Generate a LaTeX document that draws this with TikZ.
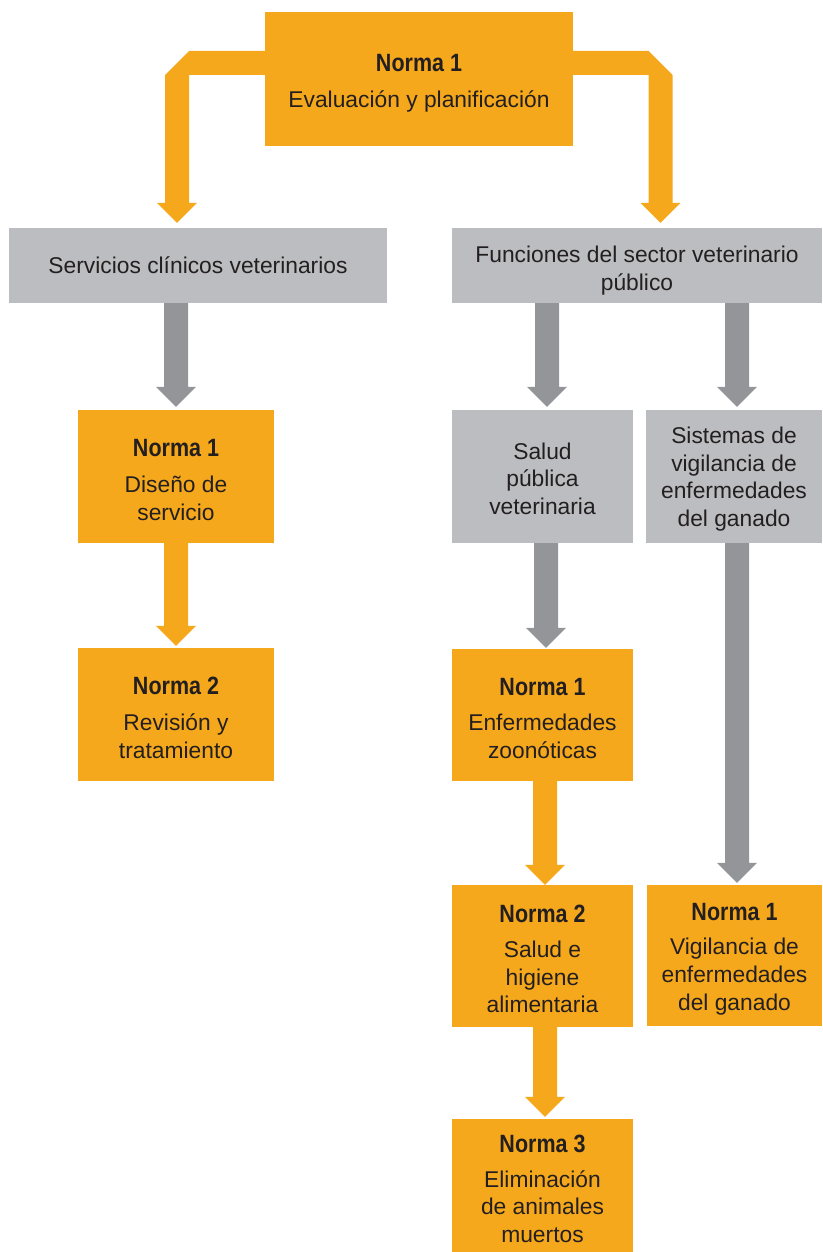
\documentclass[tikz,border=0pt]{standalone}
\usepackage{fontspec}
\setmainfont{Liberation Sans}
\newfontfamily\normafont[FakeStretch=0.86,UprightFont=* Bold]{Liberation Sans}
\usetikzlibrary{calc}
\definecolor{orng}{HTML}{F6A81C}
\definecolor{lgray}{HTML}{BCBDC0}
\definecolor{dgray}{HTML}{939598}
\definecolor{txt}{HTML}{231F20}
\newcommand\hd{\normafont\fontsize{25}{27.7}\selectfont}
\newcommand\hstrut[1]{\rule{0pt}{#1pt}}
% vertical block arrow: colour, from node, to node, x (pt), gap (pt)
\newcommand\vblock[5]{%
  \fill[#1] let \p1=(#2.south), \p2=(#3.north) in
    (#4pt-12pt,\y1) -- (#4pt+12pt,\y1) -- (#4pt+12pt,\y2+#5pt+20pt)
    -- (#4pt+20pt,\y2+#5pt+20pt) -- (#4pt,\y2+#5pt) -- (#4pt-20pt,\y2+#5pt+20pt)
    -- (#4pt-12pt,\y2+#5pt+20pt) -- cycle;}
\begin{document}
\begin{tikzpicture}[x=1pt,y=1pt,
  box/.style={inner sep=0pt, align=center, text=txt, font=\fontsize{22.8}{27.7}\selectfont},
  obox/.style={box, fill=orng},
  gbox/.style={box, fill=lgray}]
\useasboundingbox (0,0) rectangle (822,-1252);
% boxes
\node[obox, minimum width=308pt, minimum height=134pt] (top) at (419,-79)
  {{\hd\hstrut{26}Norma 1}\\[9pt]Evaluación y planificación};
\node[gbox, minimum width=378pt, minimum height=75pt] (svc) at (198,-265.5)
  {Servicios clínicos veterinarios};
\node[gbox, minimum width=370pt, minimum height=75pt] (fun) at (637,-265.5)
  {\hstrut{27}Funciones del sector veterinario\\público};
\node[obox, minimum width=196pt, minimum height=133pt] (dis) at (176,-476.5)
  {{\hd\hstrut{24}Norma 1}\\[9pt]Diseño de\\servicio};
\node[obox, minimum width=196pt, minimum height=133pt] (rev) at (176,-714.5)
  {{\hd\hstrut{24}Norma 2}\\[8pt]Revisión y\\tratamiento};
\node[gbox, minimum width=181pt, minimum height=133pt] (spv) at (542.5,-476.5)
  {\hstrut{21}Salud\\pública\\veterinaria};
\node[gbox, minimum width=176pt, minimum height=133pt] (sis) at (734,-476.5)
  {\hstrut{22}Sistemas de\\vigilancia de\\enfermedades\\del ganado};
\node[obox, minimum width=181pt, minimum height=132pt] (enf) at (542.5,-715)
  {{\hd\hstrut{24}Norma 1}\\[7pt]Enfermedades\\zoonóticas};
\node[obox, minimum width=181pt, minimum height=142pt] (hig) at (542.5,-956)
  {{\hd\hstrut{24}Norma 2}\\[7pt]Salud e\\higiene\\alimentaria};
\node[obox, minimum width=175pt, minimum height=141pt] (vig) at (734.5,-955.5)
  {{\hd\hstrut{24}Norma 1}\\[7pt]Vigilancia de\\enfermedades\\del ganado};
\node[obox, minimum width=181pt, minimum height=133pt] (eli) at (542.5,-1185.5)
  {{\hd\hstrut{24}Norma 3}\\[7pt]Eliminación\\de animales\\muertos};
% bent arrows from top box
\fill[orng] let \p1=(top.west), \p2=(svc.north) in
  (\x1,-51pt) -- (189pt,-51pt) -- (165pt,-75pt) -- (165pt,\y2+25pt)
  -- (157pt,\y2+25pt) -- (177pt,\y2+5pt) -- (197pt,\y2+25pt) -- (189pt,\y2+25pt)
  -- (189pt,-75pt) -- (\x1,-75pt) -- cycle;
\fill[orng] let \p1=(top.east), \p2=(fun.north) in
  (\x1,-51pt) -- (648.5pt,-51pt) -- (672.5pt,-75pt) -- (672.5pt,\y2+25pt)
  -- (680.5pt,\y2+25pt) -- (660.5pt,\y2+5pt) -- (640.5pt,\y2+25pt) -- (648.5pt,\y2+25pt)
  -- (648.5pt,-75pt) -- (\x1,-75pt) -- cycle;
% vertical arrows
\vblock{dgray}{svc}{dis}{176}{3}
\vblock{dgray}{fun}{spv}{547}{3}
\vblock{dgray}{fun}{sis}{737}{3}
\vblock{orng}{dis}{rev}{176}{2}
\vblock{dgray}{spv}{enf}{546}{1}
\vblock{dgray}{sis}{vig}{737}{2}
\vblock{orng}{enf}{hig}{545}{0}
\vblock{orng}{hig}{eli}{545}{2}
\end{tikzpicture}
\end{document}
